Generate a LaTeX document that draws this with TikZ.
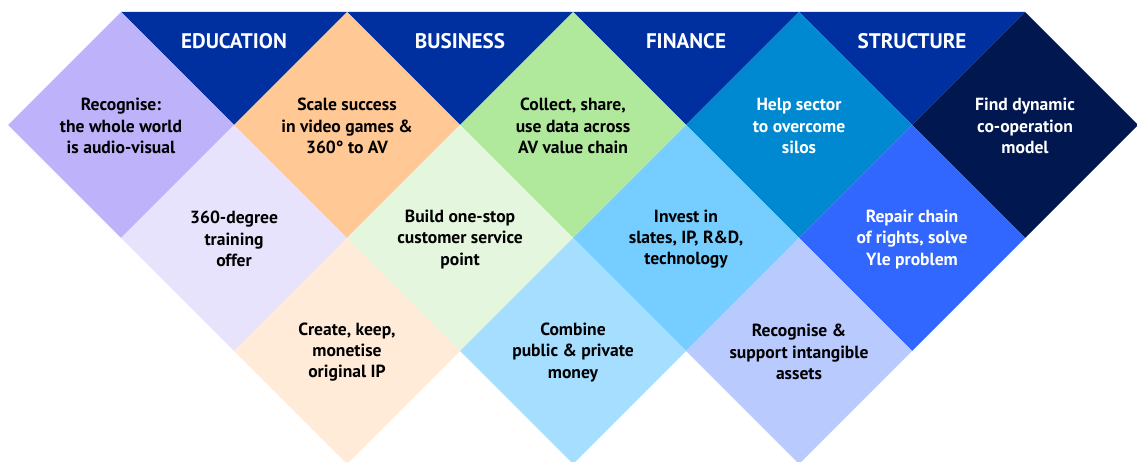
\documentclass[tikz,border=0pt]{standalone}
\usepackage{fontspec}
\setmainfont{PT Sans}

% header band
\definecolor{bandblue}{RGB}{0,48,160}
% education
\definecolor{eduA}{RGB}{190,178,250}
\definecolor{eduB}{RGB}{232,227,253}
% business
\definecolor{busA}{RGB}{255,200,148}
\definecolor{busB}{RGB}{255,235,215}
% finance
\definecolor{finA}{RGB}{176,232,156}
\definecolor{finB}{RGB}{228,246,222}
% structure
\definecolor{strA}{RGB}{0,137,208}
\definecolor{strB}{RGB}{117,206,255}
\definecolor{strC}{RGB}{166,222,255}
% last column
\definecolor{dynA}{RGB}{0,23,80}
\definecolor{dynB}{RGB}{50,103,255}
\definecolor{dynC}{RGB}{185,202,255}

\begin{document}
\begin{tikzpicture}[x=2.26cm, y=2.26cm,
    tiletext/.style={font=\bfseries\fontsize{10}{12.2}\selectfont, align=center, text=black},
    whitetext/.style={tiletext, text=white},
    headtext/.style={font=\bfseries\fontsize{12}{14}\selectfont, text=white}]

    % Frame (the last row is cut at the bottom)
    \clip (-0.071, -3.982) rectangle (9.991, 0.106);

    % Header triangles between the top diamonds
    \foreach \x/\label in {2/EDUCATION, 4/BUSINESS, 6/FINANCE, 8/STRUCTURE} {
        \fill[bandblue] (\x-1, 0) -- (\x+1, 0) -- (\x, -1) -- cycle;
        \node[headtext] (head\x) at (\x, -0.254) {\label};
    }

    % Diamonds (centre, colour)
    \foreach \x/\y/\col in {1/-1/eduA, 2/-2/eduB,
                            3/-1/busA, 3/-3/busB,
                            5/-1/finA, 4/-2/finB,
                            7/-1/strA, 6/-2/strB, 5/-3/strC,
                            9/-1/dynA, 8/-2/dynB, 7/-3/dynC} {
        \fill[\col] (\x-1, \y) -- (\x, \y+1) -- (\x+1, \y) -- (\x, \y-1) -- cycle;
    }

    % Top row
    \node[tiletext] (recognise) at (1, -1.01) {Recognise:\\the whole world\\is audio-visual};
    \node[tiletext] (scale) at (3, -1.01) {Scale success\\in video games \&\\360° to AV};
    \node[tiletext] (collect) at (5, -1.01) {Collect, share,\\use data across\\AV value chain};
    \node[whitetext] (help) at (7, -1.01) {Help sector\\to overcome\\silos};
    \node[whitetext] (dynamic) at (9, -1.01) {Find dynamic\\co-operation\\model};

    % Middle row
    \node[tiletext] (training) at (2, -2.01) {360-degree\\training\\offer};
    \node[tiletext] (onestop) at (4, -2.01) {Build one-stop\\customer service\\point};
    \node[tiletext] (invest) at (6, -2.01) {Invest in\\slates, IP, R\&D,\\technology};
    \node[whitetext] (repair) at (8, -2.01) {Repair chain\\of rights, solve\\Yle problem};

    % Bottom row
    \node[tiletext] (create) at (3, -3.01) {Create, keep,\\monetise\\original IP};
    \node[tiletext] (combine) at (5, -3.01) {Combine\\public \& private\\money};
    \node[tiletext] (assets) at (7, -3.01) {Recognise \&\\support intangible\\assets};
\end{tikzpicture}
\end{document}
